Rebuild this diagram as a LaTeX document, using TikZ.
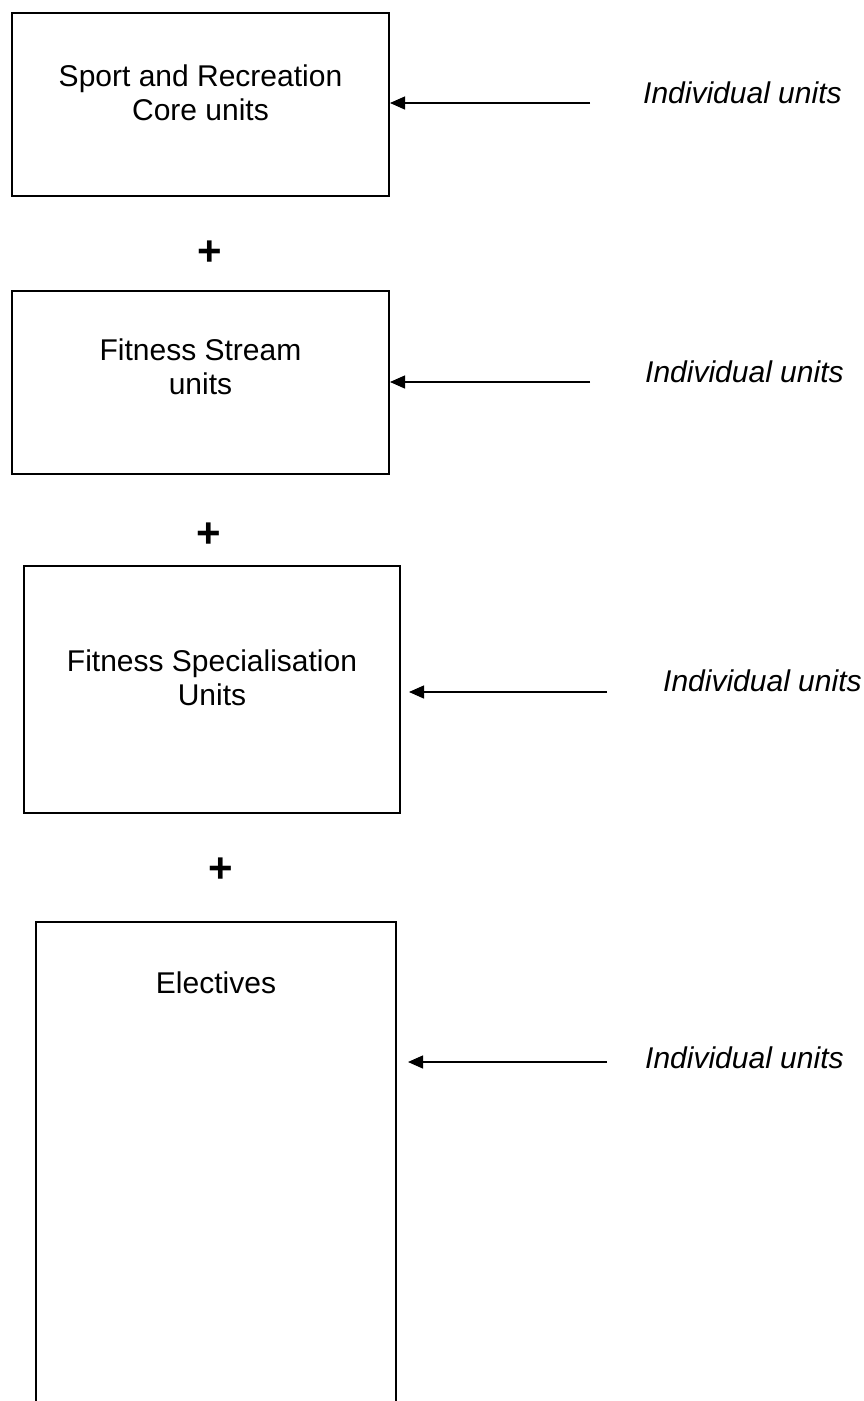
\documentclass[tikz,border=0pt]{standalone}
\usepackage{fontspec}
\setmainfont{Liberation Sans}
\usetikzlibrary{arrows.meta}

\begin{document}
\begin{tikzpicture}[x=1pt,y=-1pt,
  unitbox/.style={draw=black, line width=2pt, rectangle, inner sep=0pt},
  boxtext/.style={align=center, inner sep=0pt, font=\fontsize{30}{34}\selectfont},
  sidelabel/.style={anchor=west, inner sep=0pt, font=\fontsize{30}{34}\selectfont\itshape},
  plussign/.style={inner sep=0pt, font=\fontsize{42}{42}\selectfont\bfseries},
  feed/.style={draw=black, line width=1.3pt, -{Triangle[length=15pt,width=13pt]}}
]
\useasboundingbox (0,0) rectangle (864,1401);
\clip (0,0) rectangle (864,1401);

% unit boxes
\node[unitbox, minimum width=377pt, minimum height=183pt] (box1) at (200.5,104.5) {};
\node[unitbox, minimum width=377pt, minimum height=183pt] (box2) at (200.5,382.5) {};
\node[unitbox, minimum width=376pt, minimum height=247pt] (box3) at (212,689.5) {};
\node[unitbox, minimum width=360pt, minimum height=498pt] (box4) at (216,1171) {};

% box titles
\node[boxtext] (t1) at (200.5,93) {Sport and Recreation\\Core units};
\node[boxtext] (t2) at (200.5,367) {Fitness Stream\\units};
\node[boxtext] (t3) at (212,678) {Fitness Specialisation\\Units};
\node[boxtext] (t4) at (216,983) {Electives};

% plus signs between the boxes
\node[plussign] (p1) at (210,253) {+};
\node[plussign] (p2) at (209,535) {+};
\node[plussign] (p3) at (221,870) {+};

% arrow tails and side labels
\coordinate (s1) at (590,103);
\coordinate (s2) at (590,382);
\coordinate (s3) at (607,692);
\coordinate (s4) at (607,1062);

\node[sidelabel] (l1) at (643,93) {Individual units};
\node[sidelabel] (l2) at (645,372) {Individual units};
\node[sidelabel] (l3) at (663,681) {Individual units};
\node[sidelabel] (l4) at (645,1058) {Individual units};

\draw[feed] (s1) -- (s1 -| box1.east);
\draw[feed] (s2) -- (s2 -| box2.east);
\draw[feed, shorten >=8pt] (s3) -- (s3 -| box3.east);
\draw[feed, shorten >=11pt] (s4) -- (s4 -| box4.east);
\end{tikzpicture}
\end{document}
